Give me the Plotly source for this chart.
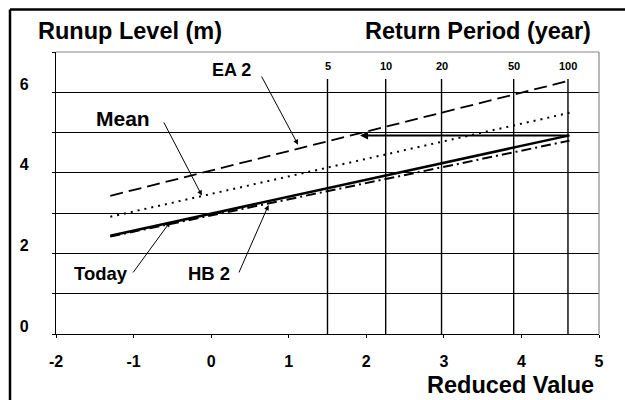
import plotly.graph_objects as go

# ---- data ----
reduced_ends = [-1.30, 4.62]
today = [2.44, 4.93]
ea2 = [3.43, 6.29]
mean = [2.91, 5.49]
hb2 = [2.42, 4.80]

return_periods = ["5", "10", "20", "50", "100"]
return_reduced = [1.50, 2.25, 2.97, 3.90, 4.60]

y_ticks = [0, 1, 2, 3, 4, 5, 6, 7]
y_ticktext = ["0", "", "2", "", "4", "", "6", ""]
x_ticks = [-2, -1, 0, 1, 2, 3, 4, 5]
x_ticktext = ["-2", "-1", "0", "1", "2", "3", "4", "5"]

arrow_level = 4.93
arrow_from = 4.62
arrow_to = 1.92

W, H = 625, 400
L, R, T, B = 56, 26, 52, 66
pw, ph = W - L - R, H - T - B


def px(x):
    return (x - L) / pw


def py(y):
    return (H - B - y) / ph


FONT = "Liberation Sans, Arial, sans-serif"

fig = go.Figure()

# return-period verticals
for rp, rv in zip(return_periods, return_reduced):
    fig.add_trace(go.Scatter(x=[rv, rv], y=[0, 6.33], mode="lines",
                             line=dict(color="black", width=1.4),
                             hoverinfo="skip", showlegend=False))

fig.add_trace(go.Scatter(x=reduced_ends, y=ea2, mode="lines", name="EA 2",
                         line=dict(color="black", width=1.8, dash="13px,6px")))
fig.add_trace(go.Scatter(x=reduced_ends, y=mean, mode="lines", name="Mean",
                         line=dict(color="black", width=2, dash="2px,5px")))
fig.add_trace(go.Scatter(x=reduced_ends, y=hb2, mode="lines", name="HB 2",
                         line=dict(color="black", width=2, dash="10px,4px,2px,4px")))
fig.add_trace(go.Scatter(x=reduced_ends, y=today, mode="lines", name="Today",
                         line=dict(color="black", width=2.5)))

annotations = []
# return period labels
for rp, rv in zip(return_periods, return_reduced):
    annotations.append(dict(x=rv, y=6.65, xref="x", yref="y", text=f"<b>{rp}</b>",
                            showarrow=False, font=dict(size=11, family=FONT, color="black")))

# horizontal arrow
annotations.append(dict(x=arrow_to, y=arrow_level, ax=arrow_from, ay=arrow_level,
                        xref="x", yref="y", axref="x", ayref="y", text="",
                        showarrow=True, arrowhead=2, arrowsize=0.8, arrowwidth=2,
                        arrowcolor="black"))

# label arrows: (text, text_x, text_y, tail_x, tail_y, head_x, head_y, size)
labels = [
    ("EA 2", 0.265, 6.55, 0.64, 6.43, 1.12, 4.70, 18),
    ("Mean", -1.13, 5.35, -0.62, 5.29, -0.12, 3.44, 21),
    ("Today", -1.42, 1.49, -1.02, 1.49, -0.53, 2.78, 18.5),
    ("HB 2", -0.03, 1.49, 0.35, 1.49, 0.74, 3.20, 18.5),
]
for txt, tx, ty, ax_, ay_, hx, hy, sz in labels:
    annotations.append(dict(x=tx, y=ty, xref="x", yref="y", text=f"<b>{txt}</b>",
                            showarrow=False, font=dict(size=sz, family=FONT, color="black")))
    annotations.append(dict(x=hx, y=hy, ax=ax_, ay=ay_, xref="x", yref="y",
                            axref="x", ayref="y", text="", showarrow=True,
                            arrowhead=2, arrowsize=1, arrowwidth=1, arrowcolor="black"))

# titles
annotations.append(dict(x=px(36), y=py(31), xref="paper", yref="paper", xanchor="left",
                        yanchor="middle", text="<b>Runup Level (m)</b>", showarrow=False,
                        font=dict(size=23.5, family=FONT, color="black")))
annotations.append(dict(x=px(593), y=py(31), xref="paper", yref="paper", xanchor="right",
                        yanchor="middle", text="<b>Return Period (year)</b>", showarrow=False,
                        font=dict(size=23.5, family=FONT, color="black")))
annotations.append(dict(x=px(596), y=py(385), xref="paper", yref="paper", xanchor="right",
                        yanchor="middle", text="<b>Reduced Value</b>", showarrow=False,
                        font=dict(size=23.5, family=FONT, color="black")))

shapes = [
    dict(type="line", xref="paper", yref="paper", x0=px(10), x1=px(625), y0=py(9.5), y1=py(9.5),
         line=dict(color="black", width=2.5)),
    dict(type="line", xref="paper", yref="paper", x0=px(10), x1=px(10), y0=py(9.5), y1=py(400),
         line=dict(color="black", width=2.5)),
    # plot frame top/right (gray)
    dict(type="line", xref="paper", yref="paper", x0=0, x1=1, y0=1, y1=1,
         line=dict(color="#888888", width=1.2)),
    dict(type="line", xref="paper", yref="paper", x0=1, x1=1, y0=0, y1=1,
         line=dict(color="#888888", width=1.2)),
]

tick_font = dict(size=16, family=FONT, color="black", weight="bold")

fig.update_layout(
    width=W, height=H,
    margin=dict(l=L, r=R, t=T, b=B),
    paper_bgcolor="white", plot_bgcolor="white",
    showlegend=False,
    annotations=annotations,
    shapes=shapes,
    font=dict(family=FONT, color="black"),
    xaxis=dict(range=[-2, 5], tickvals=x_ticks, ticktext=x_ticktext,
               ticks="outside", ticklen=3,
               tickcolor="black", showgrid=False, zeroline=False,
               showline=True, linecolor="black", linewidth=1.2,
               tickfont=tick_font, ticklabelstandoff=10),
    yaxis=dict(range=[0, 7], tickvals=y_ticks, ticktext=y_ticktext,
               ticks="outside", ticklen=3, tickcolor="black",
               showgrid=True, gridcolor="black", gridwidth=1.2, zeroline=False,
               showline=True, linecolor="black", linewidth=1.2,
               tickfont=tick_font, ticklabelstandoff=20, ticklabelshift=-8),
)

fig.write_html("out.html")
